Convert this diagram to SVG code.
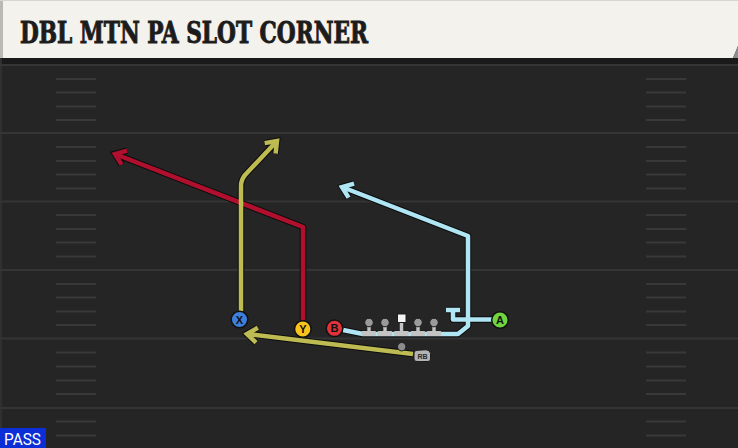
<svg xmlns="http://www.w3.org/2000/svg" width="738" height="448" viewBox="0 0 738 448">
<defs>
<style>
.yard{stroke:#353535;stroke-width:2.2}
.hash{stroke:#393939;stroke-width:2}
.out{fill:none;stroke:#0d0d0d;stroke-width:6.5;stroke-linejoin:round;stroke-linecap:butt}
.rt{fill:none;stroke-width:4.5;stroke-linejoin:round;stroke-linecap:butt}
.red{stroke:#b0102e}
.yel{stroke:#bdbb52}
.cya{stroke:#b0e5f4}
.pc{stroke:#111;stroke-width:1.5}
.lbl{font-family:"Liberation Sans",Arial,sans-serif;font-weight:bold;font-size:11px;fill:#111;text-anchor:middle}
.olh{fill:#9a9a9a;stroke:#1c1c1c;stroke-width:1}
.olb{fill:#c4c4c4}
</style>
<marker id="ahO" markerUnits="userSpaceOnUse" markerWidth="30" markerHeight="30" refX="0" refY="0" viewBox="-15 -15 30 30" orient="auto" overflow="visible">
<path d="M-10,-7.5 L0,0 L-10,7.5" fill="none" stroke="#0d0d0d" stroke-width="6.5" stroke-linejoin="miter"/>
</marker>
<marker id="ahR" markerUnits="userSpaceOnUse" markerWidth="30" markerHeight="30" refX="0" refY="0" viewBox="-15 -15 30 30" orient="auto" overflow="visible">
<path d="M-10,-7.5 L0,0 L-10,7.5" fill="none" stroke="#b0102e" stroke-width="4.5" stroke-linejoin="miter"/>
</marker>
<marker id="ahY" markerUnits="userSpaceOnUse" markerWidth="30" markerHeight="30" refX="0" refY="0" viewBox="-15 -15 30 30" orient="auto" overflow="visible">
<path d="M-10,-7.5 L0,0 L-10,7.5" fill="none" stroke="#bdbb52" stroke-width="4.5" stroke-linejoin="miter"/>
</marker>
<marker id="ahC" markerUnits="userSpaceOnUse" markerWidth="30" markerHeight="30" refX="0" refY="0" viewBox="-15 -15 30 30" orient="auto" overflow="visible">
<path d="M-10,-7.5 L0,0 L-10,7.5" fill="none" stroke="#b0e5f4" stroke-width="4.5" stroke-linejoin="miter"/>
</marker>
</defs>

<!-- field -->
<rect x="0" y="0" width="738" height="448" fill="#252525"/>
<rect x="0" y="58" width="738" height="6" fill="#1a1a1a"/>
<rect x="0" y="58" width="2" height="390" fill="#303030"/>
<g id="yardlines">
<line class="yard" x1="0" y1="65" x2="738" y2="65"/>
<line class="yard" x1="0" y1="133" x2="738" y2="133"/>
<line class="yard" x1="0" y1="201.5" x2="738" y2="201.5"/>
<line class="yard" x1="0" y1="270" x2="738" y2="270"/>
<line class="yard" x1="0" y1="338.5" x2="738" y2="338.5"/>
<line class="yard" x1="0" y1="408" x2="738" y2="408"/>
</g>
<g id="hashes">
<path class="hash" d="M56,79H96M56,92.5H96M56,106.5H96M56,120H96M56,147H96M56,161H96M56,174.5H96M56,188.5H96M56,215H96M56,229H96M56,242.5H96M56,256.5H96M56,284H96M56,297.5H96M56,311.5H96M56,325H96M56,352.5H96M56,366.5H96M56,380.5H96M56,394H96M56,421.5H96M56,435.5H96"/>
<path class="hash" d="M646,79H686M646,92.5H686M646,106.5H686M646,120H686M646,147H686M646,161H686M646,174.5H686M646,188.5H686M646,215H686M646,229H686M646,242.5H686M646,256.5H686M646,284H686M646,297.5H686M646,311.5H686M646,325H686M646,352.5H686M646,366.5H686M646,380.5H686M646,394H686M646,421.5H686M646,435.5H686"/>
</g>

<!-- title bar -->
<g id="title">
<polygon points="0,0 738,0 738,46 733,58 0,58" fill="#f4f2ec"/>
<polygon points="733,58 738,46 738,58" fill="#8a8d94"/>
<rect x="0" y="0" width="3" height="58" fill="#b9b9b6"/>
<line x1="0" y1="0.5" x2="738" y2="0.5" stroke="#d8d6d0" stroke-width="1"/>
<text x="20" y="43" font-family="'DejaVu Serif Condensed','DejaVu Serif',serif" font-weight="bold" font-stretch="condensed" font-size="29" fill="#1c1c1c" stroke="#1c1c1c" stroke-width="0.9" textLength="348" lengthAdjust="spacingAndGlyphs">DBL MTN PA SLOT CORNER</text>
</g>

<!-- connectors -->
<g id="connectors">
<path class="out" d="M303,320 L303,227 L115,154" marker-end="url(#ahO)"/>
<path class="out" d="M241,311 L241,186 Q241,180 245,175 L277,141" marker-end="url(#ahO)"/>
<path class="out" d="M343,330 L363,334 L458,334 L468,326 L468,236 L342,187" marker-end="url(#ahO)"/>
<path class="out" d="M492,319.5 L453,319.5 L453,310 M446,310 L460,310"/>
<path class="out" d="M413,354 L247,334" marker-end="url(#ahO)"/>

<path class="rt red" d="M303,320 L303,227 L115,154" marker-end="url(#ahR)"/>
<path class="rt yel" d="M241,311 L241,186 Q241,180 245,175 L277,141" marker-end="url(#ahY)"/>
<path class="rt cya" d="M343,330 L363,334 L458,334 L468,326 L468,236 L342,187" marker-end="url(#ahC)"/>
<path class="rt cya" d="M492,319.5 L453,319.5 L453,310 M446,310 L460,310"/>
<path class="rt yel" d="M413,354 L247,334" marker-end="url(#ahY)"/>
</g>

<!-- offensive line -->
<g id="LT">
<rect class="olb" x="367.3" y="324" width="3.4" height="8"/>
<rect class="olb" x="361.5" y="331" width="14.5" height="5" rx="1"/>
<circle class="olh" cx="369" cy="322.5" r="4.3"/>
</g>
<g id="LG">
<rect class="olb" x="383.3" y="324" width="3.4" height="8"/>
<rect class="olb" x="377.7" y="331" width="14.5" height="5" rx="1"/>
<circle class="olh" cx="385" cy="322.5" r="4.3"/>
</g>
<g id="C">
<rect class="olb" x="399.8" y="321" width="3.4" height="11"/>
<rect class="olb" x="394.2" y="331" width="14.5" height="5" rx="1"/>
<rect x="397.5" y="314" width="8.5" height="8.5" fill="#f4f4f4" stroke="#1c1c1c" stroke-width="1"/>
</g>
<g id="RG">
<rect class="olb" x="416.3" y="324" width="3.4" height="8"/>
<rect class="olb" x="410.7" y="331" width="14.5" height="5" rx="1"/>
<circle class="olh" cx="418" cy="322.5" r="4.3"/>
</g>
<g id="RT">
<rect class="olb" x="432.3" y="324" width="3.4" height="8"/>
<rect class="olb" x="426.7" y="331" width="14.5" height="5" rx="1"/>
<circle class="olh" cx="434" cy="322.5" r="4.3"/>
</g>
<g id="QB">
<circle cx="401.7" cy="346.7" r="4.2" fill="#8c8c8c" stroke="#1c1c1c" stroke-width="1"/>
</g>
<g id="RB">
<path d="M414,353 Q414,350.5 417,350.3 L426,349.8 Q430,349.8 430.5,353.5 L430.5,359 Q430.5,361.5 428,361.5 L417,361.5 Q414,361.5 414,359 Z" fill="#b3b3b3" stroke="#1c1c1c" stroke-width="1"/>
<text x="422.5" y="359" font-family="'Liberation Sans',Arial,sans-serif" font-weight="bold" font-size="7" fill="#2a2a2a" text-anchor="middle">RB</text>
</g>

<!-- receivers -->
<g id="X">
<circle class="pc" cx="239.5" cy="319.5" r="8.3" fill="#3e7fdc"/>
<text class="lbl" x="239.5" y="323.5">X</text>
</g>
<g id="Y">
<circle class="pc" cx="302.8" cy="329" r="8.3" fill="#f6c41c"/>
<text class="lbl" x="302.8" y="333">Y</text>
</g>
<g id="B">
<circle class="pc" cx="334.5" cy="328.3" r="8.3" fill="#df3239"/>
<text class="lbl" x="334.5" y="332.3">B</text>
</g>
<g id="A">
<circle class="pc" cx="500" cy="320" r="8.3" fill="#6fd43e"/>
<text class="lbl" x="500" y="324">A</text>
</g>

<!-- play type -->
<g id="pass">
<rect x="0" y="428" width="46" height="20" fill="#0b2ed6"/>
<text x="4" y="445" font-family="Roboto,'Liberation Sans',sans-serif" font-size="16.5" fill="#ffffff" textLength="37" lengthAdjust="spacingAndGlyphs">PASS</text>
</g>
</svg>
